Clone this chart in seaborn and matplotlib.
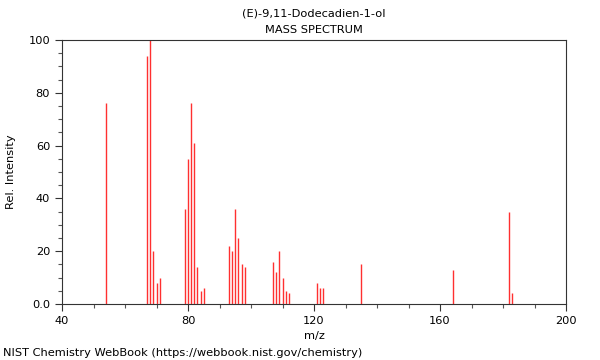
import matplotlib
matplotlib.use("Agg")
import matplotlib.pyplot as plt
import seaborn as sns
from matplotlib.ticker import MultipleLocator, FixedLocator, FixedFormatter

# peaks
mz = [54, 67, 68, 69, 70, 71, 79, 80, 81, 82, 83, 84, 85,
      93, 94, 95, 96, 97, 98, 107, 108, 109, 110, 111, 112,
      121, 122, 123, 135, 164, 182, 183]
intensity = [76, 94, 100, 20, 8, 10, 36, 55, 76, 61, 14, 5, 6,
             22, 20, 36, 25, 15, 14, 16, 12, 20, 10, 5, 4,
             8, 6, 6, 15, 13, 35, 4]

compound = "(E)-9,11-Dodecadien-1-ol"
x_ticks = [40, 80, 120, 160, 200]
y_ticks = [0, 20, 40, 60, 80, 100]
y_labels = ["0.0", "20", "40", "60", "80", "100"]

sns.set_style("ticks")
plt.rcParams['font.family'] = ['DejaVu Sans']
plt.rcParams['text.color'] = 'black'
plt.rcParams['axes.labelcolor'] = 'black'

fig = plt.figure(figsize=(6, 3.6), dpi=100)
ax = fig.add_axes([62 / 600, 1 - 304 / 360, 504 / 600, 264 / 360])

ax.vlines(mz, 0, intensity, color="#ff3030", linewidth=1.0)

ax.set_xlim(40, 200)
ax.set_ylim(0, 100)
ax.xaxis.set_major_locator(FixedLocator(x_ticks))
ax.xaxis.set_minor_locator(MultipleLocator(10))
ax.yaxis.set_major_locator(FixedLocator(y_ticks))
ax.yaxis.set_major_formatter(FixedFormatter(y_labels))
ax.yaxis.set_minor_locator(MultipleLocator(5))
ax.tick_params(which="major", length=5, width=0.8, labelsize=8.2, colors="#333333",
               labelcolor="black")
ax.tick_params(which="minor", length=3, width=0.8, colors="#555555")

for s in ax.spines.values():
    s.set_color("#333333")
    s.set_linewidth(0.8)
    s.set_visible(True)

ax.set_xlabel("m/z", fontsize=8.2)
ax.set_ylabel("Rel. Intensity", fontsize=8.2, labelpad=9)

fig.text(0.5 * (62 + 566) / 600, 1 - 14 / 360, compound, ha="center", va="center", fontsize=8.2)
fig.text(0.5 * (62 + 566) / 600, 1 - 30 / 360, "MASS SPECTRUM", ha="center", va="center", fontsize=8.2)
fig.text(3 / 600, 1 - 353 / 360, "NIST Chemistry WebBook (https://webbook.nist.gov/chemistry)",
         ha="left", va="center", fontsize=8.2)

fig.savefig("out.png", dpi=100)
